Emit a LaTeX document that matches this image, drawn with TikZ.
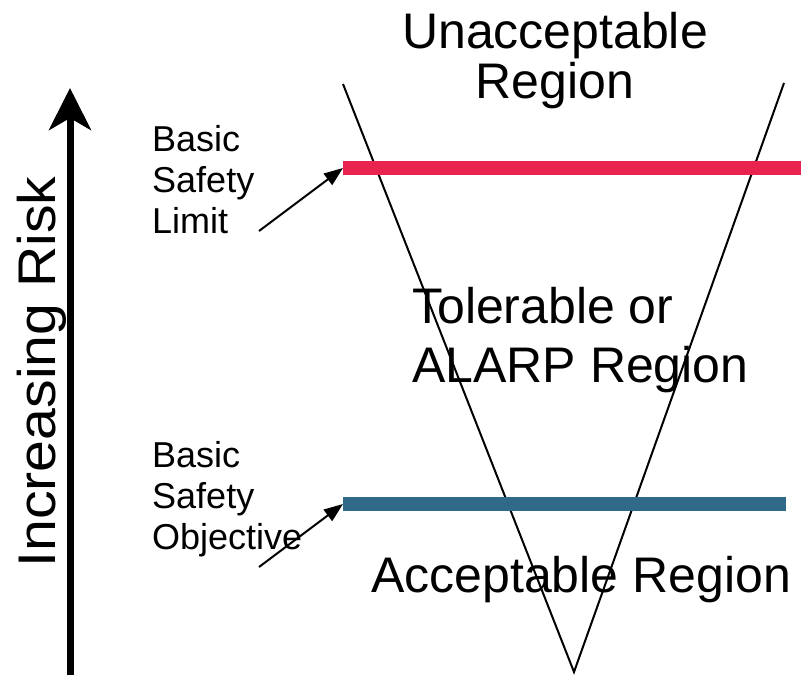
\documentclass[tikz,border=0pt]{standalone}
\usepackage{fontspec}
\setmainfont{Liberation Sans}
\usetikzlibrary{arrows.meta}
\definecolor{limitred}{RGB}{232,35,78}
\definecolor{objblue}{RGB}{47,106,136}
\tikzset{
  bigtext/.style={font=\fontsize{50}{50}\selectfont, inner sep=0pt},
  smalltext/.style={font=\fontsize{36}{41}\selectfont, inner sep=0pt, align=left, anchor=north west},
  vline/.style={line width=2pt, line join=miter},
  levelbar/.style={line width=14pt},
  pointer/.style={line width=2pt, -{Triangle[length=19pt,width=14pt]}},
  riskaxis/.style={line width=7pt, -{Stealth[length=42pt,width=42pt,inset=12pt]}}
}
\begin{document}
\begin{tikzpicture}[x=1pt,y=-1pt]
\useasboundingbox (0,0) rectangle (808,675);
% V shape
\coordinate (vl) at (343,84);
\coordinate (vb) at (574,672);
\coordinate (vr) at (784,83);
\draw[vline] (vl) -- (vb) -- (vr);
% bars
\coordinate (redL) at (343,168);
\coordinate (redR) at (801,168);
\coordinate (blueL) at (343,504);
\coordinate (blueR) at (786,504);
\draw[levelbar, limitred] (redL) -- (redR);
\draw[levelbar, objblue] (blueL) -- (blueR);
% risk axis
\coordinate (axB) at (70,675);
\coordinate (axT) at (70,88);
\draw[riskaxis] (axB) -- (axT);
\node[font=\fontsize{53}{55}\selectfont, inner sep=0pt, rotate=90, anchor=base] (risk) at (55,372) {\scalebox{1.08}[1]{Increasing Risk}};
% region labels
\node[bigtext, align=center, anchor=north] (unacc) at (555,12) {Unacceptable\\Region};
\node[bigtext, align=left, anchor=north west, font=\fontsize{50}{59}\selectfont] (toler) at (412,287) {Tolerable or\\ALARP Region};
\node[bigtext, anchor=base west] (acc) at (371,592) {Acceptable Region};
% side labels
\node[smalltext] (bsl) at (152,125) {Basic\\Safety\\Limit};
\node[smalltext] (bso) at (152,441) {Basic\\Safety\\Objective};
\coordinate (p1) at (259,231);
\coordinate (p2) at (259,567);
\draw[pointer] (p1) -- (redL);
\draw[pointer] (p2) -- (blueL);
\end{tikzpicture}
\end{document}
